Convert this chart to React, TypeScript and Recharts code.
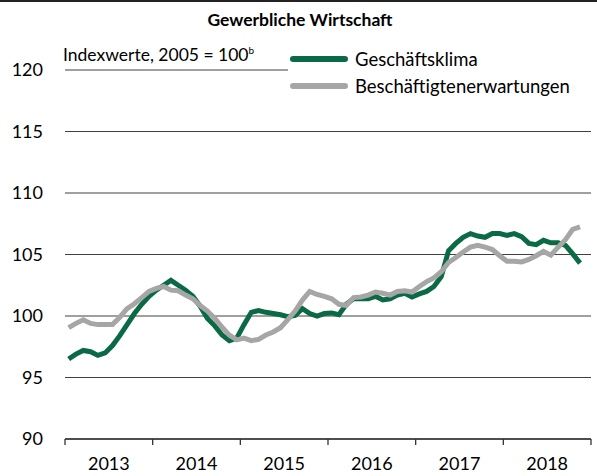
import { LineChart, Line, XAxis, YAxis, CartesianGrid, Legend } from "recharts"

// Monatswerte Jan 2013 – Nov 2018
const jahre = ["2013", "2014", "2015", "2016", "2017", "2018"]

const geschaeftsklima = [
  96.5, 96.9, 97.2, 97.1, 96.8, 97.0, 97.6, 98.4, 99.3, 100.2, 100.95, 101.6,
  102.1, 102.5, 102.9, 102.5, 102.1, 101.6, 100.8, 99.8, 99.2, 98.45, 98.0, 98.2,
  99.3, 100.3, 100.45, 100.3, 100.2, 100.1, 99.95, 100.05, 100.6, 100.2, 100.0, 100.2,
  100.25, 100.1, 100.95, 101.4, 101.4, 101.4, 101.6, 101.3, 101.4, 101.7, 101.85, 101.55,
  101.8, 102.0, 102.4, 103.2, 105.3, 105.9, 106.4, 106.7, 106.5, 106.4, 106.7, 106.7,
  106.55, 106.7, 106.45, 105.9, 105.8, 106.15, 105.95, 105.95, 105.75, 105.05, 104.3,
]

const beschaeftigtenerwartungen = [
  99.05, 99.4, 99.7, 99.4, 99.3, 99.3, 99.3, 99.9, 100.6, 101.0, 101.5, 102.0,
  102.25, 102.4, 102.1, 102.05, 101.7, 101.4, 100.85, 100.4, 99.8, 99.1, 98.45, 98.06,
  98.2, 98.0, 98.1, 98.45, 98.7, 99.05, 99.7, 100.4, 101.3, 102.0, 101.75, 101.6,
  101.4, 100.95, 100.85, 101.5, 101.55, 101.7, 101.95, 101.85, 101.7, 102.0, 102.05, 101.95,
  102.4, 102.8, 103.1, 103.6, 104.35, 104.75, 105.2, 105.6, 105.75, 105.6, 105.4, 104.9,
  104.45, 104.45, 104.4, 104.6, 104.9, 105.25, 104.95, 105.6, 106.2, 107.05, 107.25,
]

const yTicks = [90, 95, 100, 105, 110, 115, 120]

const GRUEN = "#0a6a45"
const GRAU = "#a6a6a6"
const FONT = "Lato, 'Open Sans', sans-serif"

const data = geschaeftsklima.map((v, i) => ({
  monat: i + 0.5,
  klima: v,
  erwartungen: beschaeftigtenerwartungen[i],
}))

// Jahresgrenzen (Striche) und Jahresmitten (Beschriftung)
const xTicks = jahre.flatMap((_, j) => [j * 12, j * 12 + 6]).concat(jahre.length * 12)

function JahrTick(props: any) {
  const { x, y, payload } = props
  const v = payload.value as number
  if (v % 12 === 0) {
    return <line x1={x} x2={x} y1={y} y2={y + 6} stroke="#333" strokeWidth={1.3} />
  }
  return (
    <text x={x} y={y + 31} textAnchor="middle" fontSize={18} fontFamily={FONT} fill="#000">
      {jahre[(v - 6) / 12]}
    </text>
  )
}

function Legende() {
  const eintraege = [
    { name: "Geschäftsklima", farbe: GRUEN },
    { name: "Beschäftigtenerwartungen", farbe: GRAU },
  ]
  return (
    <div style={{ background: "#fff", paddingLeft: 2 }}>
      {eintraege.map((e) => (
        <div key={e.name} style={{ display: "flex", alignItems: "center", height: 27 }}>
          <span
            style={{
              display: "inline-block",
              width: 58,
              height: 6,
              borderRadius: 3,
              background: e.farbe,
              marginRight: 7,
            }}
          />
          <span style={{ fontSize: 18.5, fontFamily: FONT, color: "#000" }}>{e.name}</span>
        </div>
      ))}
    </div>
  )
}

export default function App() {
  return (
    <div
      style={{
        position: "absolute",
        left: 0,
        top: 0,
        width: 597,
        height: 476,
        background: "#fff",
        fontFamily: FONT,
      }}
    >
      <div style={{ position: "absolute", left: 0, top: 0, width: 597, height: 2, background: "#222" }} />
      <div
        style={{
          position: "absolute",
          left: 0,
          width: 600,
          top: 9,
          textAlign: "center",
          fontWeight: 700,
          fontSize: 17.5,
          color: "#000",
        }}
      >
        Gewerbliche Wirtschaft
      </div>
      <div
        style={{
          position: "absolute",
          left: 63,
          top: 44,
          fontSize: 17.5,
          color: "#000",
          zIndex: 2,
        }}
      >
        Indexwerte, 2005 = 100<sup style={{ fontSize: 10 }}>b</sup>
      </div>
      <LineChart
        width={597}
        height={476}
        data={data}
        margin={{ top: 70, right: 6, bottom: 7, left: 0 }}
      >
        <CartesianGrid vertical={false} stroke="#404040" strokeWidth={1} />
        <XAxis
          dataKey="monat"
          type="number"
          domain={[0, 72]}
          ticks={xTicks}
          interval={0}
          height={30}
          tickSize={0}
          tickMargin={0}
          tickLine={false}
          axisLine={{ stroke: "#333", strokeWidth: 1.3 }}
          tick={<JahrTick />}
        />
        <YAxis
          type="number"
          domain={[90, 120]}
          ticks={yTicks}
          width={65}
          axisLine={false}
          tickLine={false}
          tickSize={0}
          tickMargin={22}
          tick={{ fontSize: 18, fill: "#000", fontFamily: FONT }}
        />
        <Legend
          layout="horizontal"
          verticalAlign="middle"
          align="center"
          wrapperStyle={{ left: 288, top: 45, width: 306 }}
          content={() => <Legende />}
        />
        <Line
          type="linear"
          dataKey="klima"
          stroke={GRUEN}
          strokeWidth={5}
          dot={false}
          isAnimationActive={false}
        />
        <Line
          type="linear"
          dataKey="erwartungen"
          stroke={GRAU}
          strokeWidth={5}
          dot={false}
          isAnimationActive={false}
        />
      </LineChart>
    </div>
  )
}
